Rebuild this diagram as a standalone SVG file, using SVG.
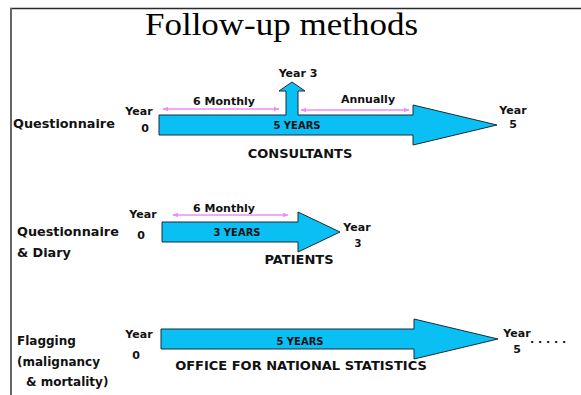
<svg xmlns="http://www.w3.org/2000/svg" width="581" height="395" viewBox="0 0 581 395">
  <defs>
    <style>
      .lbl { font-family: "DejaVu Sans", Verdana, sans-serif; font-weight: bold; fill: #111; }
      .s11 { font-size: 11px; }
      .s10 { font-size: 10px; }
      .s12 { font-size: 12px; }
      .s13 { font-size: 13px; }
      .q { font-size: 12.8px; }
      .title { font-family: "Liberation Serif", "Times New Roman", serif; font-size: 32px; fill: #000; }
      .bar { fill: #0abff4; stroke: #1c2c36; stroke-width: 1; stroke-linejoin: miter; }
      .freq { stroke: #f08cf0; stroke-width: 1.3; fill: none; marker-start: url(#pk); marker-end: url(#pk); }
    </style>
    <marker id="pk" viewBox="0 0 10 10" refX="9" refY="5" markerWidth="6" markerHeight="6" orient="auto-start-reverse" markerUnits="userSpaceOnUse">
      <path d="M0,1 L10,5 L0,9 Z" fill="#f08cf0"/>
    </marker>
  </defs>

  <rect width="581" height="395" fill="#fff"/>

  <!-- frame -->
  <line x1="10" y1="8.5" x2="581" y2="8.5" stroke="#2a2a2a" stroke-width="1.6"/>
  <line x1="11" y1="8" x2="11" y2="395" stroke="#666" stroke-width="2"/>

  <text class="title" x="145" y="35" textLength="273" lengthAdjust="spacingAndGlyphs">Follow-up methods</text>

  <!-- Questionnaire: consultants -->
  <g id="questionnaire">
    <text class="lbl q" x="13" y="128">Questionnaire</text>
    <text class="lbl s11" x="139" y="115" text-anchor="middle">Year</text>
    <text class="lbl s11" x="145" y="132" text-anchor="middle">0</text>
    <path class="bar" d="M159,115 L286,115 L286,91 L279,91 L292,82 L305,91 L298,91 L298,115 L413,115 L413,105 L497,125 L413,145 L413,135 L159,135 Z"/>
    <text class="lbl s10" x="297" y="129" text-anchor="middle">5 YEARS</text>
    <text class="lbl s11" x="298" y="77" text-anchor="middle">Year 3</text>
    <text class="lbl s11" x="224" y="105" text-anchor="middle">6 Monthly</text>
    <text class="lbl s11" x="368" y="103" text-anchor="middle">Annually</text>
    <text class="lbl s11" x="513" y="114" text-anchor="middle">Year</text>
    <text class="lbl s11" x="513" y="128" text-anchor="middle">5</text>
    <text class="lbl s13" x="300" y="158" text-anchor="middle">CONSULTANTS</text>
  </g>

  <!-- Questionnaire & diary: patients -->
  <g id="diary">
    <text class="lbl q" x="17" y="236">Questionnaire</text>
    <text class="lbl q" x="17" y="257">&amp; Diary</text>
    <text class="lbl s11" x="143" y="218" text-anchor="middle">Year</text>
    <text class="lbl s11" x="141" y="239" text-anchor="middle">0</text>
    <path class="bar" d="M162,222 L298,222 L298,212 L340,232 L298,252 L298,242 L162,242 Z"/>
    <text class="lbl s10" x="237" y="236" text-anchor="middle">3 YEARS</text>
    <text class="lbl s11" x="224" y="212" text-anchor="middle">6 Monthly</text>
    <text class="lbl s11" x="357" y="231" text-anchor="middle">Year</text>
    <text class="lbl s10" x="358" y="247" text-anchor="middle">3</text>
    <text class="lbl s13" x="299" y="264" text-anchor="middle">PATIENTS</text>
  </g>

  <!-- Flagging: office for national statistics -->
  <g id="flagging">
    <text class="lbl s12" x="17" y="345">Flagging</text>
    <text class="lbl s12" x="17" y="366">(malignancy</text>
    <text class="lbl s12" x="26" y="386">&amp; mortality)</text>
    <text class="lbl s11" x="139" y="338" text-anchor="middle">Year</text>
    <text class="lbl s11" x="136" y="359" text-anchor="middle">0</text>
    <path class="bar" d="M161,329 L414,329 L414,319 L498,339 L414,359 L414,349 L161,349 Z"/>
    <text class="lbl s10" x="300" y="345" text-anchor="middle">5 YEARS</text>
    <text class="lbl s13" x="301" y="370" text-anchor="middle">OFFICE FOR NATIONAL STATISTICS</text>
    <text class="lbl s11" x="517" y="337" text-anchor="middle">Year</text>
    <text class="lbl s11" x="517" y="353" text-anchor="middle">5</text>
    <text class="lbl s11" x="530" y="343">. . . . .</text>
  </g>

  <!-- reporting-interval connectors -->
  <g id="connectors">
    <line class="freq" x1="163" y1="109" x2="279" y2="109"/>
    <line class="freq" x1="301" y1="110" x2="409" y2="110"/>
    <line class="freq" x1="173" y1="215" x2="288" y2="215"/>
  </g>
</svg>
